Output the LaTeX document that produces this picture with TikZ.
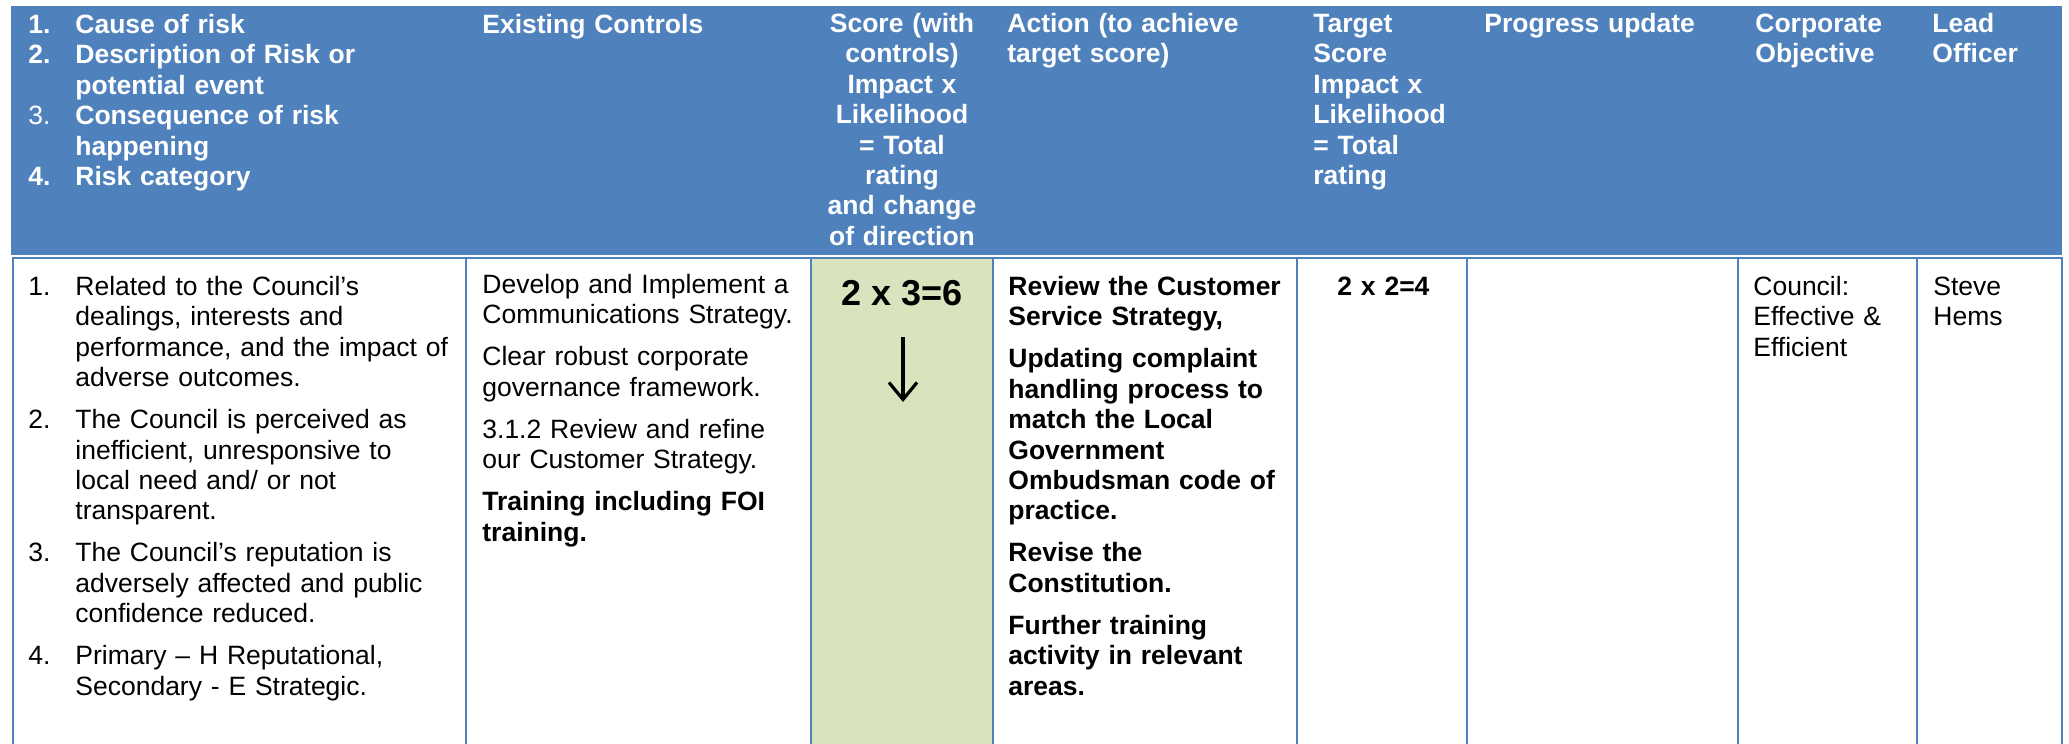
\documentclass[tikz,border=0pt]{standalone}
\usepackage{fontspec}
\setmainfont{Liberation Sans}
\usetikzlibrary{arrows.meta}
\definecolor{hdrblue}{HTML}{4F81BD}
\definecolor{scoregreen}{HTML}{D7E4BD}
\newcommand{\cellfont}{\fontsize{13.25}{15.2}\selectfont\parindent=0pt\parskip=5.8pt}
\newcommand{\hdrfont}{\fontsize{13.25}{15.2}\selectfont\bfseries\parindent=0pt\parskip=0pt}
\newcommand{\tstrut}{\rule{0pt}{11pt}}
\newcommand{\rnum}[2]{\hangindent=23.5pt\noindent\tstrut\makebox[23.5pt][l]{#1}#2\par}
\begin{document}
\begin{tikzpicture}[x=0.5pt,y=-0.5pt,
	tblline/.style={hdrblue,line width=1pt},
	hdr/.style={anchor=north west,inner sep=0pt,align=left,text=white,font=\hdrfont,text width=#1},
	cell/.style={anchor=north west,inner sep=0pt,align=left,font=\cellfont,text width=#1}]
	\useasboundingbox (0,0) rectangle (2069,744);
	\fill[hdrblue] (11,6) rectangle (2062,255);
	\fill[scoregreen] (812,259) rectangle (992,744);
	\draw[tblline] (12,258) -- (2063,258);
	\foreach \x in {13,465.5,811,993,1297,1467,1738,1917,2062}
		\draw[tblline] (\x,258) -- (\x,744);
	\node[hdr=210pt] (hcause) at (28,11) {\rnum{1.}{Cause of risk}\rnum{2.}{Description of Risk or\newline potential event}\rnum{\mdseries 3.}{Consequence of risk\newline happening}\rnum{4.}{Risk category}};
	\node[hdr=160pt] (hctrl) at (482,11) {\tstrut Existing Controls};
	\node[hdr=86pt,anchor=north,align=center] (hscore) at (902,10) {\tstrut Score (with\\ controls)\\ Impact x\\ Likelihood\\ = Total\\ rating\\ and change\\ of direction};
	\node[hdr=140pt] (haction) at (1007,10) {\tstrut Action (to achieve\newline target score)};
	\node[hdr=75pt] (htarget) at (1313,10) {\tstrut Target\newline Score\newline Impact x\newline Likelihood\newline = Total\newline rating};
	\node[hdr=120pt] (hprog) at (1484,10) {\tstrut Progress update};
	\node[hdr=75pt] (hobj) at (1755,10) {\tstrut Corporate\newline Objective};
	\node[hdr=60pt] (hlead) at (1932,10) {\tstrut Lead\newline Officer};
	\node[cell=215pt] (bcause) at (28,273) {\rnum{1.}{Related to the Council’s\newline dealings, interests and\newline performance, and the impact of\newline adverse outcomes.}\rnum{2.}{The Council is perceived as\newline inefficient, unresponsive to\newline local need and/ or not\newline transparent.}\rnum{3.}{The Council’s reputation is\newline adversely affected and public\newline confidence reduced.}\rnum{4.}{Primary – H Reputational,\newline Secondary - E Strategic.}};
	\node[cell=160pt] (bctrl) at (482,271) {\tstrut Develop and Implement a\newline Communications Strategy.\par Clear robust corporate\newline governance framework.\par 3.1.2 Review and refine\newline our Customer Strategy.\par \textbf{Training including FOI\newline training.}};
	\node[anchor=base,inner sep=0pt,font=\fontsize{18}{20}\selectfont\bfseries] (score) at (902,305) {2 x 3=6};
	\coordinate (arrtop) at (903,337);
	\coordinate (arrbot) at (903,402);
	\draw[line width=1.6pt,-{Straight Barb[length=8.5pt,width=14pt]}] (arrtop) -- (arrbot);
	\node[cell=145pt,font=\cellfont\bfseries] (baction) at (1008,273) {\tstrut Review the Customer\newline Service Strategy,\par Updating complaint\newline handling process to\newline match the Local\newline Government\newline Ombudsman code of\newline practice.\par Revise the\newline Constitution.\par Further training\newline activity in relevant\newline areas.};
	\node[cell=70pt,font=\cellfont\bfseries] (btarget) at (1337,273) {\tstrut 2 x 2=4};
	\node[cell=75pt] (bobj) at (1753,273) {\tstrut Council:\newline Effective \&\newline Efficient};
	\node[cell=60pt] (blead) at (1933,273) {\tstrut Steve\newline Hems};
\end{tikzpicture}
\end{document}
